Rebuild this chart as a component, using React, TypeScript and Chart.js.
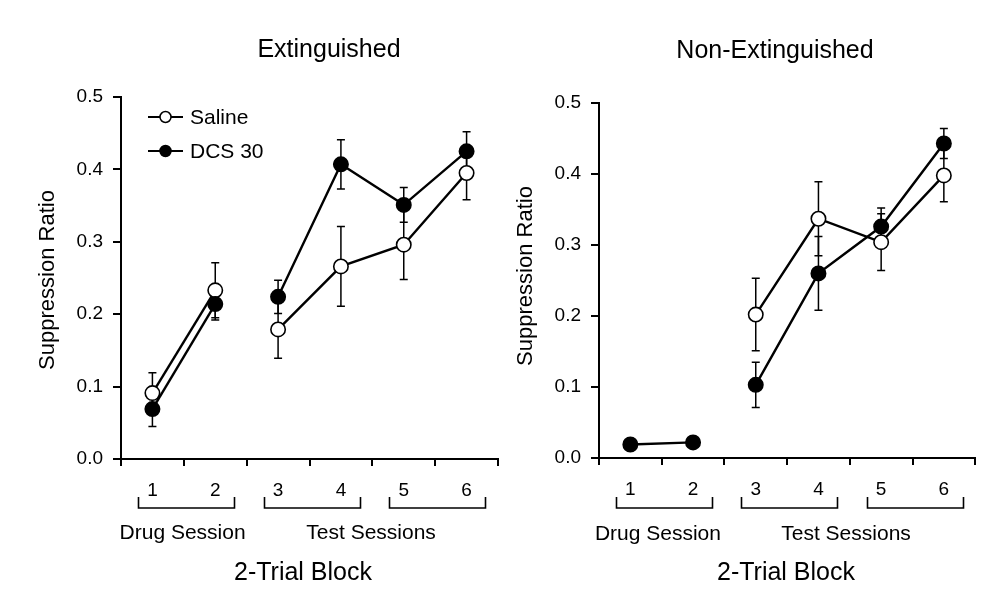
import React, { useEffect, useRef } from "react";
import { Chart, registerables } from "chart.js";

Chart.register(...registerables);

// ---------- data ----------
const blocks = ["1", "2", "3", "4", "5", "6"];
const sessions = ["Drug Session", "Drug Session", "Test Sessions", "Test Sessions", "Test Sessions", "Test Sessions"];
const seriesNames = ["Saline", "DCS 30"];
const yTickValues = [0, 0.1, 0.2, 0.3, 0.4, 0.5];
const panelTitles = ["Extinguished", "Non-Extinguished"];
const yAxisTitle = "Suppression Ratio";
const xAxisTitle = "2-Trial Block";

const extSaline = [0.091, 0.233, 0.179, 0.266, 0.296, 0.395];
const extSalineSem = [0.028, 0.038, 0.04, 0.055, 0.048, 0.037];
const extDcs = [0.069, 0.214, 0.224, 0.407, 0.351, 0.425];
const extDcsSem = [0.024, 0.022, 0.023, 0.034, 0.024, 0.027];

const nonSaline = [null, null, 0.202, 0.337, 0.304, 0.398];
const nonSalineSem = [null, null, 0.051, 0.052, 0.04, 0.037];
const nonDcs = [0.019, 0.022, 0.103, 0.26, 0.326, 0.443];
const nonDcsSem = [0, 0, 0.032, 0.052, 0.026, 0.021];

// ---------- styling ----------
const FONT = '"Liberation Sans", Arial, Helvetica, sans-serif';
const INK = "#000";

type PanelCfg = {
  title: string;
  saline: (number | null)[];
  salineSem: (number | null)[];
  dcs: (number | null)[];
  dcsSem: (number | null)[];
  canvasW: number;
  padTop: number;
  padRight: number;
  yWidth: number;
  xHeight: number;
  titleX: number;
  titleY: number;
  yTitleX: number;
  yTitleY: number;
  numY: number;
  bracketY: number;
  groupY: number;
  groupShift: number;
  axisTitleX: number;
  axisTitleY: number;
  legend: boolean;
};

const leftPanel: PanelCfg = {
  title: panelTitles[0],
  saline: extSaline,
  salineSem: extSalineSem,
  dcs: extDcs,
  dcsSem: extDcsSem,
  canvasW: 530,
  padTop: 97,
  padRight: 32,
  yWidth: 121,
  xHeight: 137,
  titleX: 329,
  titleY: 57,
  yTitleX: 54,
  yTitleY: 280,
  numY: 490.5,
  bracketY: 508,
  groupY: 533,
  groupShift: -0.02,
  axisTitleX: 303,
  axisTitleY: 573,
  legend: true,
};

const rightPanel: PanelCfg = {
  title: panelTitles[1],
  saline: nonSaline,
  salineSem: nonSalineSem,
  dcs: nonDcs,
  dcsSem: nonDcsSem,
  canvasW: 504,
  padTop: 103,
  padRight: 7,
  yWidth: 119,
  xHeight: 138,
  titleX: 295,
  titleY: 58,
  yTitleX: 52,
  yTitleY: 276,
  numY: 490,
  bracketY: 508,
  groupY: 534,
  groupShift: -0.06,
  axisTitleX: 306,
  axisTitleY: 573,
  legend: false,
};

const errorBarsPlugin = {
  id: "errorBars",
  beforeDatasetsDraw(chart: any) {
    const { ctx } = chart;
    const xs = chart.scales.x;
    const ys = chart.scales.y;
    ctx.save();
    ctx.strokeStyle = INK;
    ctx.lineWidth = 1.5;
    const cap = 4;
    chart.data.datasets.forEach((ds: any) => {
      const sem = ds.sem as (number | null)[];
      if (!sem) return;
      ds.data.forEach((v: number | null, i: number) => {
        const e = sem[i];
        if (v == null || !e) return;
        const px = xs.getPixelForValue(i);
        const top = ys.getPixelForValue(v + e);
        const bot = ys.getPixelForValue(v - e);
        ctx.beginPath();
        ctx.moveTo(px, top);
        ctx.lineTo(px, bot);
        ctx.moveTo(px - cap, top);
        ctx.lineTo(px + cap, top);
        ctx.moveTo(px - cap, bot);
        ctx.lineTo(px + cap, bot);
        ctx.stroke();
      });
    });
    ctx.restore();
  },
};

const decorPlugin = {
  id: "decor",
  afterDraw(chart: any, _args: any, opts: any) {
    const cfg: PanelCfg = opts.cfg;
    if (!cfg) return;
    const { ctx } = chart;
    const xs = chart.scales.x;
    const ux = (u: number) => xs.getPixelForValue(u - 0.5);
    ctx.save();
    ctx.fillStyle = INK;
    ctx.strokeStyle = INK;

    // panel title
    ctx.font = `25px ${FONT}`;
    ctx.textAlign = "center";
    ctx.textBaseline = "alphabetic";
    ctx.fillText(cfg.title, cfg.titleX, cfg.titleY);

    // y axis title
    ctx.save();
    ctx.translate(cfg.yTitleX, cfg.yTitleY);
    ctx.rotate(-Math.PI / 2);
    ctx.font = `22px ${FONT}`;
    ctx.textAlign = "center";
    ctx.textBaseline = "alphabetic";
    ctx.fillText(yAxisTitle, 0, 0);
    ctx.restore();

    // block numbers
    ctx.font = `19px ${FONT}`;
    ctx.textAlign = "center";
    ctx.textBaseline = "middle";
    blocks.forEach((b, i) => {
      ctx.fillText(b, xs.getPixelForValue(i), cfg.numY);
    });

    // brackets (pairs of blocks)
    ctx.lineWidth = 1.6;
    for (let k = 0; k < blocks.length; k += 2) {
      const x0 = Math.round(ux(k + 0.27)) + 0.5;
      const x1 = Math.round(ux(k + 1.8)) + 0.5;
      const yb = cfg.bracketY;
      ctx.beginPath();
      ctx.moveTo(x0, yb - 11);
      ctx.lineTo(x0, yb);
      ctx.lineTo(x1, yb);
      ctx.lineTo(x1, yb - 11);
      ctx.stroke();
    }

    // session group labels
    ctx.font = `21px ${FONT}`;
    ctx.textBaseline = "middle";
    const groups: string[] = [];
    sessions.forEach((s) => {
      if (!groups.includes(s)) groups.push(s);
    });
    groups.forEach((g) => {
      const idx = sessions.map((s, i) => (s === g ? i : -1)).filter((i) => i >= 0);
      const mean = idx.reduce((a, b) => a + b, 0) / idx.length;
      ctx.fillText(g, ux(mean + 0.5 + cfg.groupShift), cfg.groupY);
    });

    // x axis title
    ctx.font = `25px ${FONT}`;
    ctx.fillText(xAxisTitle, cfg.axisTitleX, cfg.axisTitleY);

    // legend
    if (cfg.legend) {
      const rows = [
        { name: seriesNames[0], fill: "#fff", y: 117 },
        { name: seriesNames[1], fill: INK, y: 151 },
      ];
      rows.forEach((r) => {
        ctx.lineWidth = 2.2;
        ctx.beginPath();
        ctx.moveTo(148, r.y);
        ctx.lineTo(183, r.y);
        ctx.stroke();
        ctx.beginPath();
        ctx.arc(165.5, r.y, 5.5, 0, Math.PI * 2);
        ctx.fillStyle = r.fill;
        ctx.fill();
        ctx.lineWidth = 1.5;
        ctx.stroke();
        ctx.fillStyle = INK;
        ctx.font = `21px ${FONT}`;
        ctx.textAlign = "left";
        ctx.textBaseline = "middle";
        ctx.fillText(r.name, 190, r.y + 1);
      });
    }
    ctx.restore();
  },
};

function gapSegment(ctx: any) {
  return sessions[ctx.p0DataIndex] !== sessions[ctx.p1DataIndex] ? "rgba(0,0,0,0)" : INK;
}

function buildConfig(cfg: PanelCfg): any {
  const common = {
    borderColor: INK,
    borderWidth: 2.4,
    pointRadius: 7.2,
    pointHoverRadius: 7.2,
    pointBorderWidth: 1.6,
    pointBorderColor: INK,
    spanGaps: false,
    clip: false as any,
    segment: { borderColor: gapSegment },
  };
  return {
    type: "line",
    data: {
      labels: blocks,
      datasets: [
        { ...common, label: seriesNames[1], data: cfg.dcs, sem: cfg.dcsSem, pointBackgroundColor: INK },
        { ...common, label: seriesNames[0], data: cfg.saline, sem: cfg.salineSem, pointBackgroundColor: "#fff" },
      ],
    },
    options: {
      responsive: false,
      animation: false,
      events: [],
      layout: { padding: { top: cfg.padTop, right: cfg.padRight, left: 0, bottom: 0 } },
      plugins: {
        legend: { display: false },
        tooltip: { enabled: false },
        title: { display: false },
        decor: { cfg },
      },
      scales: {
        x: {
          type: "category",
          offset: true,
          afterFit: (s: any) => {
            s.height = cfg.xHeight;
          },
          grid: {
            display: true,
            offset: true,
            drawOnChartArea: false,
            drawTicks: true,
            tickLength: 7,
            color: INK,
            tickColor: INK,
            lineWidth: 2,
          },
          border: { display: true, color: INK, width: 2 },
          ticks: { display: false },
        },
        y: {
          type: "linear",
          min: 0,
          max: 0.5,
          afterFit: (s: any) => {
            s.width = cfg.yWidth;
          },
          afterBuildTicks: (s: any) => {
            s.ticks = yTickValues.map((v) => ({ value: v }));
          },
          grid: {
            display: true,
            drawOnChartArea: false,
            drawTicks: true,
            tickLength: 8,
            color: INK,
            tickColor: INK,
            lineWidth: 2,
          },
          border: { display: true, color: INK, width: 2 },
          ticks: {
            padding: 10,
            color: INK,
            font: { family: FONT, size: 19 },
            callback: (v: any) => Number(v).toFixed(1),
          },
        },
      },
    },
    plugins: [errorBarsPlugin, decorPlugin],
  };
}

export default function App() {
  const leftRef = useRef<HTMLCanvasElement>(null);
  const rightRef = useRef<HTMLCanvasElement>(null);
  useEffect(() => {
    const a = new Chart(leftRef.current as HTMLCanvasElement, buildConfig(leftPanel));
    const b = new Chart(rightRef.current as HTMLCanvasElement, buildConfig(rightPanel));
    return () => {
      a.destroy();
      b.destroy();
    };
  }, []);
  return (
    <div style={{ position: "absolute", left: 0, top: 0, width: 984, height: 596, background: "#fff" }}>
      <canvas
        ref={leftRef}
        width={leftPanel.canvasW}
        height={596}
        style={{ position: "absolute", left: 0, top: 0 }}
      />
      <canvas
        ref={rightRef}
        width={rightPanel.canvasW}
        height={596}
        style={{ position: "absolute", left: 480, top: 0 }}
      />
    </div>
  );
}
